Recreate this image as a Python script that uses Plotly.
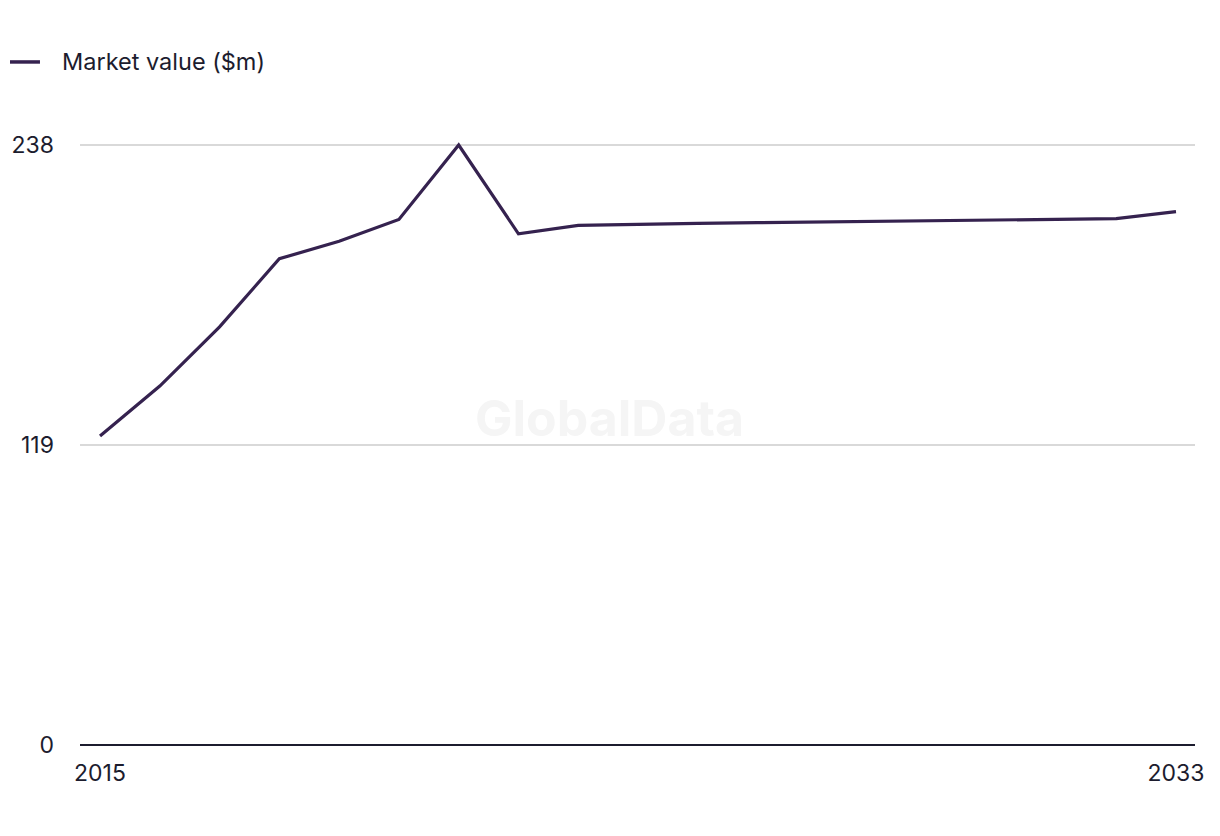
import plotly.graph_objects as go

years = list(range(2015, 2034))
market_value = [122.6, 142.4, 165.9, 192.9, 199.8, 208.5, 238.0, 202.8, 206.1,
                206.6, 206.9, 207.2, 207.5, 207.8, 208.1, 208.3, 208.6, 208.8, 211.6]
y_ticks = [0, 119, 238]
x_ticks = [2015, 2033]
series_name = "Market value ($m)"

LINE = "#35224f"
TEXT = "#1c1c2e"
FONT = "Inter, Liberation Sans, sans-serif"

fig = go.Figure()
fig.add_trace(go.Scatter(
    x=years,
    y=market_value,
    mode="lines",
    name=series_name,
    line=dict(color=LINE, width=3.2),
    showlegend=False,
))

# legend drawn by hand so the swatch/text spacing matches
fig.add_shape(
    type="line", xref="paper", yref="paper",
    x0=-0.0628, x1=-0.0359, y0=1.129, y1=1.129,
    line=dict(color=LINE, width=3.5),
)
fig.add_annotation(
    text=series_name, x=-0.0179, y=1.129, xref="paper", yref="paper",
    xanchor="left", yanchor="middle", showarrow=False,
    font=dict(family=FONT, size=23.5, color=TEXT),
)

# faint watermark in the middle of the plot
fig.add_annotation(
    text="GlobalData", x=0.475, y=0.54, xref="paper", yref="paper",
    showarrow=False, font=dict(family=FONT, size=50, color="#f5f5f5", weight="bold"),
)

fig.update_layout(
    width=1220, height=836,
    margin=dict(l=80, r=25, t=140, b=91),
    paper_bgcolor="white",
    plot_bgcolor="white",
    font=dict(family=FONT, size=23, color=TEXT),
    showlegend=False,
)
fig.update_xaxes(
    range=[2014.665, 2033.318],
    tickvals=x_ticks,
    showgrid=False,
    showline=False,
    zeroline=False,
    ticks="",
    ticklabelstandoff=12,
)
fig.update_yaxes(
    range=[0, 240],
    tickvals=y_ticks,
    showgrid=True,
    gridcolor="#d9d9d9",
    gridwidth=1.5,
    zeroline=True,
    zerolinecolor=TEXT,
    zerolinewidth=2,
    ticks="",
    ticklabelstandoff=25,
)

fig.write_html(
    "out.html",
    config={"displayModeBar": False},
    post_script="document.body.style.margin='0';",
)
